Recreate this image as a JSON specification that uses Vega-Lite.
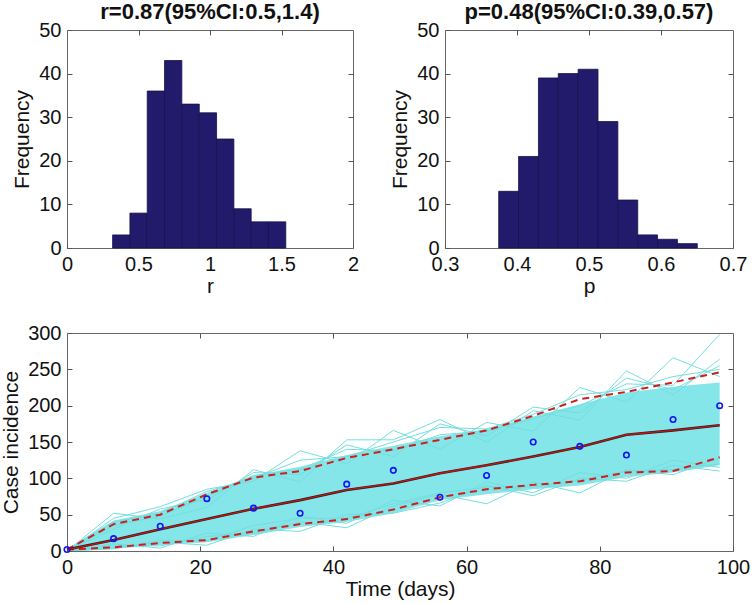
{
  "$schema": "https://vega.github.io/schema/vega-lite/v6.json",
  "padding": {"left": 0, "top": 0, "right": 0, "bottom": 0},
  "background": "white",
  "config": {
    "font": "Liberation Sans",
    "view": {"stroke": "#666", "strokeWidth": 1},
    "axis": {
      "grid": false, "domain": false, "tickColor": "#555", "tickSize": -5, "tickWidth": 1,
      "labelFontSize": 20, "labelColor": "#111", "labelFlush": false, "labelOverlap": false, "labelPadding": 11,
      "titleFontSize": 21, "titleFontWeight": "normal", "titleColor": "#111", "titlePadding": 6
    },
    "axisX": {"titlePadding": 1},
    "title": {"fontSize": 22, "fontWeight": "bold", "offset": -4, "anchor": "middle", "color": "#111"}
  },
  "datasets": {
    "r_hist": [
      {"x0": 0.319, "x1": 0.440, "count": 3},
      {"x0": 0.440, "x1": 0.561, "count": 8},
      {"x0": 0.561, "x1": 0.682, "count": 36},
      {"x0": 0.682, "x1": 0.803, "count": 43},
      {"x0": 0.803, "x1": 0.925, "count": 33},
      {"x0": 0.925, "x1": 1.046, "count": 31},
      {"x0": 1.046, "x1": 1.167, "count": 25},
      {"x0": 1.167, "x1": 1.288, "count": 9},
      {"x0": 1.288, "x1": 1.409, "count": 6},
      {"x0": 1.409, "x1": 1.530, "count": 6}
    ],
    "p_hist": [
      {"x0": 0.3746, "x1": 0.4022, "count": 13},
      {"x0": 0.4022, "x1": 0.4298, "count": 21},
      {"x0": 0.4298, "x1": 0.4573, "count": 39},
      {"x0": 0.4573, "x1": 0.4849, "count": 40},
      {"x0": 0.4849, "x1": 0.5125, "count": 41},
      {"x0": 0.5125, "x1": 0.5401, "count": 29},
      {"x0": 0.5401, "x1": 0.5677, "count": 11},
      {"x0": 0.5677, "x1": 0.5952, "count": 3},
      {"x0": 0.5952, "x1": 0.6228, "count": 2},
      {"x0": 0.6228, "x1": 0.6504, "count": 1}
    ],
    "ci": [
      {"day": 0, "lo": 2, "med": 2, "hi": 2, "core_lo": 0, "core_hi": 3},
      {"day": 7, "lo": 5, "med": 15, "hi": 37, "core_lo": 3, "core_hi": 42},
      {"day": 14, "lo": 11, "med": 30, "hi": 50, "core_lo": 8, "core_hi": 55},
      {"day": 21, "lo": 15, "med": 44, "hi": 78, "core_lo": 12, "core_hi": 80},
      {"day": 28, "lo": 27, "med": 58, "hi": 101, "core_lo": 22, "core_hi": 104},
      {"day": 35, "lo": 37, "med": 70, "hi": 110, "core_lo": 33, "core_hi": 116},
      {"day": 42, "lo": 44, "med": 84, "hi": 128, "core_lo": 40, "core_hi": 132},
      {"day": 49, "lo": 57, "med": 93, "hi": 140, "core_lo": 52, "core_hi": 145},
      {"day": 56, "lo": 74, "med": 107, "hi": 153, "core_lo": 70, "core_hi": 158},
      {"day": 63, "lo": 85, "med": 118, "hi": 166, "core_lo": 78, "core_hi": 168},
      {"day": 70, "lo": 91, "med": 130, "hi": 186, "core_lo": 85, "core_hi": 185},
      {"day": 77, "lo": 96, "med": 143, "hi": 209, "core_lo": 90, "core_hi": 202},
      {"day": 84, "lo": 108, "med": 160, "hi": 219, "core_lo": 102, "core_hi": 218},
      {"day": 91, "lo": 110, "med": 166, "hi": 232, "core_lo": 108, "core_hi": 226},
      {"day": 98, "lo": 129, "med": 173, "hi": 246, "core_lo": 118, "core_hi": 232}
    ],
    "obs": [
      {"day": 0, "cases": 2}, {"day": 7, "cases": 17}, {"day": 14, "cases": 34},
      {"day": 21, "cases": 72}, {"day": 28, "cases": 59}, {"day": 35, "cases": 52},
      {"day": 42, "cases": 92}, {"day": 49, "cases": 111}, {"day": 56, "cases": 74},
      {"day": 63, "cases": 104}, {"day": 70, "cases": 150}, {"day": 77, "cases": 144},
      {"day": 84, "cases": 132}, {"day": 91, "cases": 181}, {"day": 98, "cases": 200}
    ],
    "sims": [
      {"sim": 1, "day": 0, "cases": 0}, {"sim": 1, "day": 7, "cases": 52}, {"sim": 1, "day": 14, "cases": 44}, {"sim": 1, "day": 21, "cases": 60}, {"sim": 1, "day": 28, "cases": 112}, {"sim": 1, "day": 35, "cases": 95}, {"sim": 1, "day": 42, "cases": 153}, {"sim": 1, "day": 49, "cases": 153}, {"sim": 1, "day": 56, "cases": 181}, {"sim": 1, "day": 63, "cases": 150}, {"sim": 1, "day": 70, "cases": 193}, {"sim": 1, "day": 77, "cases": 180}, {"sim": 1, "day": 84, "cases": 248}, {"sim": 1, "day": 91, "cases": 215}, {"sim": 1, "day": 98, "cases": 264},
      {"sim": 2, "day": 0, "cases": 0}, {"sim": 2, "day": 7, "cases": 45}, {"sim": 2, "day": 14, "cases": 61}, {"sim": 2, "day": 21, "cases": 85}, {"sim": 2, "day": 28, "cases": 96}, {"sim": 2, "day": 35, "cases": 138}, {"sim": 2, "day": 42, "cases": 120}, {"sim": 2, "day": 49, "cases": 166}, {"sim": 2, "day": 56, "cases": 140}, {"sim": 2, "day": 63, "cases": 177}, {"sim": 2, "day": 70, "cases": 165}, {"sim": 2, "day": 77, "cases": 225}, {"sim": 2, "day": 84, "cases": 205}, {"sim": 2, "day": 91, "cases": 266}, {"sim": 2, "day": 98, "cases": 240},
      {"sim": 3, "day": 0, "cases": 0}, {"sim": 3, "day": 7, "cases": 35}, {"sim": 3, "day": 14, "cases": 48}, {"sim": 3, "day": 21, "cases": 75}, {"sim": 3, "day": 28, "cases": 104}, {"sim": 3, "day": 35, "cases": 112}, {"sim": 3, "day": 42, "cases": 140}, {"sim": 3, "day": 49, "cases": 138}, {"sim": 3, "day": 56, "cases": 160}, {"sim": 3, "day": 63, "cases": 165}, {"sim": 3, "day": 70, "cases": 182}, {"sim": 3, "day": 77, "cases": 200}, {"sim": 3, "day": 84, "cases": 230}, {"sim": 3, "day": 91, "cases": 228}, {"sim": 3, "day": 98, "cases": 298},
      {"sim": 4, "day": 0, "cases": 0}, {"sim": 4, "day": 7, "cases": 4}, {"sim": 4, "day": 14, "cases": 12}, {"sim": 4, "day": 21, "cases": 8}, {"sim": 4, "day": 28, "cases": 30}, {"sim": 4, "day": 35, "cases": 27}, {"sim": 4, "day": 42, "cases": 50}, {"sim": 4, "day": 49, "cases": 52}, {"sim": 4, "day": 56, "cases": 66}, {"sim": 4, "day": 63, "cases": 90}, {"sim": 4, "day": 70, "cases": 76}, {"sim": 4, "day": 77, "cases": 100}, {"sim": 4, "day": 84, "cases": 96}, {"sim": 4, "day": 91, "cases": 118}, {"sim": 4, "day": 98, "cases": 110},
      {"sim": 5, "day": 0, "cases": 0}, {"sim": 5, "day": 7, "cases": 8}, {"sim": 5, "day": 14, "cases": 7}, {"sim": 5, "day": 21, "cases": 20}, {"sim": 5, "day": 28, "cases": 24}, {"sim": 5, "day": 35, "cases": 40}, {"sim": 5, "day": 42, "cases": 32}, {"sim": 5, "day": 49, "cases": 62}, {"sim": 5, "day": 56, "cases": 78}, {"sim": 5, "day": 63, "cases": 65}, {"sim": 5, "day": 70, "cases": 95}, {"sim": 5, "day": 77, "cases": 80}, {"sim": 5, "day": 84, "cases": 112}, {"sim": 5, "day": 91, "cases": 105}, {"sim": 5, "day": 98, "cases": 128},
      {"sim": 6, "day": 0, "cases": 0}, {"sim": 6, "day": 7, "cases": 3}, {"sim": 6, "day": 14, "cases": 15}, {"sim": 6, "day": 21, "cases": 14}, {"sim": 6, "day": 28, "cases": 35}, {"sim": 6, "day": 35, "cases": 45}, {"sim": 6, "day": 42, "cases": 45}, {"sim": 6, "day": 49, "cases": 65}, {"sim": 6, "day": 56, "cases": 80}, {"sim": 6, "day": 63, "cases": 88}, {"sim": 6, "day": 70, "cases": 88}, {"sim": 6, "day": 77, "cases": 98}, {"sim": 6, "day": 84, "cases": 110}, {"sim": 6, "day": 91, "cases": 112}, {"sim": 6, "day": 98, "cases": 120},
      {"sim": 7, "day": 0, "cases": 0}, {"sim": 7, "day": 7, "cases": 40}, {"sim": 7, "day": 14, "cases": 52}, {"sim": 7, "day": 21, "cases": 82}, {"sim": 7, "day": 28, "cases": 100}, {"sim": 7, "day": 35, "cases": 125}, {"sim": 7, "day": 42, "cases": 130}, {"sim": 7, "day": 49, "cases": 150}, {"sim": 7, "day": 56, "cases": 170}, {"sim": 7, "day": 63, "cases": 168}, {"sim": 7, "day": 70, "cases": 188}, {"sim": 7, "day": 77, "cases": 215}, {"sim": 7, "day": 84, "cases": 222}, {"sim": 7, "day": 91, "cases": 240}, {"sim": 7, "day": 98, "cases": 250},
      {"sim": 8, "day": 0, "cases": 0}, {"sim": 8, "day": 7, "cases": 30}, {"sim": 8, "day": 14, "cases": 58}, {"sim": 8, "day": 21, "cases": 70}, {"sim": 8, "day": 28, "cases": 108}, {"sim": 8, "day": 35, "cases": 105}, {"sim": 8, "day": 42, "cases": 146}, {"sim": 8, "day": 49, "cases": 130}, {"sim": 8, "day": 56, "cases": 175}, {"sim": 8, "day": 63, "cases": 158}, {"sim": 8, "day": 70, "cases": 198}, {"sim": 8, "day": 77, "cases": 190}, {"sim": 8, "day": 84, "cases": 238}, {"sim": 8, "day": 91, "cases": 222}, {"sim": 8, "day": 98, "cases": 255},
      {"sim": 9, "day": 0, "cases": 0}, {"sim": 9, "day": 7, "cases": 10}, {"sim": 9, "day": 14, "cases": 4}, {"sim": 9, "day": 21, "cases": 25}, {"sim": 9, "day": 28, "cases": 20}, {"sim": 9, "day": 35, "cases": 48}, {"sim": 9, "day": 42, "cases": 38}, {"sim": 9, "day": 49, "cases": 70}, {"sim": 9, "day": 56, "cases": 62}, {"sim": 9, "day": 63, "cases": 95}, {"sim": 9, "day": 70, "cases": 80}, {"sim": 9, "day": 77, "cases": 108}, {"sim": 9, "day": 84, "cases": 100}, {"sim": 9, "day": 91, "cases": 125}, {"sim": 9, "day": 98, "cases": 115}
    ]
  },
  "spacing": 25,
  "vconcat": [
    {
      "spacing": 29,
      "hconcat": [
        {
          "width": 286, "height": 218,
          "title": {"text": "r=0.87(95%CI:0.5,1.4)"},
          "data": {"name": "r_hist"},
          "layer": [
            {
              "mark": {"type": "rect", "fill": "#221b6c", "stroke": "#15124a", "strokeWidth": 0.8},
              "encoding": {
                "x": {"field": "x0", "type": "quantitative", "scale": {"domain": [0, 2], "nice": false, "zero": false}, "axis": {"values": [0, 0.5, 1, 1.5, 2], "format": "~g", "title": "r"}},
                "x2": {"field": "x1"},
                "y": {"field": "count", "type": "quantitative", "scale": {"domain": [0, 50], "nice": false}, "axis": {"values": [0, 10, 20, 30, 40, 50], "title": "Frequency"}},
                "y2": {"datum": 0}
              }
            },
            {
              "mark": {"type": "rect", "opacity": 0},
              "encoding": {
                "x": {"field": "x0", "type": "quantitative", "axis": {"orient": "top", "values": [0.5, 1, 1.5], "labels": false, "labelPadding": 0, "title": null}},
                "x2": {"field": "x1"},
                "y": {"field": "count", "type": "quantitative", "axis": {"orient": "right", "values": [10, 20, 30, 40], "labels": false, "labelPadding": 0, "title": null}},
                "y2": {"datum": 0}
              }
            }
          ],
          "resolve": {"axis": {"x": "independent", "y": "independent"}}
        },
        {
          "width": 288, "height": 218,
          "title": {"text": "p=0.48(95%CI:0.39,0.57)"},
          "data": {"name": "p_hist"},
          "layer": [
            {
              "mark": {"type": "rect", "fill": "#221b6c", "stroke": "#15124a", "strokeWidth": 0.8},
              "encoding": {
                "x": {"field": "x0", "type": "quantitative", "scale": {"domain": [0.3, 0.7], "nice": false, "zero": false}, "axis": {"values": [0.3, 0.4, 0.5, 0.6, 0.7], "format": ".1f", "title": "p"}},
                "x2": {"field": "x1"},
                "y": {"field": "count", "type": "quantitative", "scale": {"domain": [0, 50], "nice": false}, "axis": {"values": [0, 10, 20, 30, 40, 50], "title": "Frequency"}},
                "y2": {"datum": 0}
              }
            },
            {
              "mark": {"type": "rect", "opacity": 0},
              "encoding": {
                "x": {"field": "x0", "type": "quantitative", "axis": {"orient": "top", "values": [0.4, 0.5, 0.6], "labels": false, "labelPadding": 0, "title": null}},
                "x2": {"field": "x1"},
                "y": {"field": "count", "type": "quantitative", "axis": {"orient": "right", "values": [10, 20, 30, 40], "labels": false, "labelPadding": 0, "title": null}},
                "y2": {"datum": 0}
              }
            }
          ],
          "resolve": {"axis": {"x": "independent", "y": "independent"}}
        }
      ]
    },
    {
      "width": 666, "height": 218,
      "layer": [
        {
          "data": {"name": "ci"},
          "mark": {"type": "area", "color": "#84e6e8", "opacity": 1},
          "encoding": {
            "x": {"field": "day", "type": "quantitative", "scale": {"domain": [0, 100], "nice": false}, "axis": {"values": [0, 20, 40, 60, 80, 100], "title": "Time (days)"}},
            "y": {"field": "core_lo", "type": "quantitative", "scale": {"domain": [0, 300], "nice": false}, "axis": {"values": [0, 50, 100, 150, 200, 250, 300], "title": "Case incidence"}},
            "y2": {"field": "core_hi"}
          }
        },
        {
          "data": {"name": "sims"},
          "mark": {"type": "line", "color": "#74dede", "strokeWidth": 1, "clip": true},
          "encoding": {
            "x": {"field": "day", "type": "quantitative", "axis": null},
            "y": {"field": "cases", "type": "quantitative", "axis": null},
            "detail": {"field": "sim"}
          }
        },
        {
          "data": {"name": "ci"},
          "mark": {"type": "line", "color": "#d01e1e", "strokeWidth": 2, "strokeDash": [7, 5]},
          "encoding": {
            "x": {"field": "day", "type": "quantitative", "axis": null},
            "y": {"field": "hi", "type": "quantitative", "axis": null}
          }
        },
        {
          "data": {"name": "ci"},
          "mark": {"type": "line", "color": "#d01e1e", "strokeWidth": 2, "strokeDash": [7, 5]},
          "encoding": {
            "x": {"field": "day", "type": "quantitative", "axis": null},
            "y": {"field": "lo", "type": "quantitative", "axis": null}
          }
        },
        {
          "data": {"name": "ci"},
          "mark": {"type": "line", "color": "#222", "strokeWidth": 2.6},
          "encoding": {
            "x": {"field": "day", "type": "quantitative", "axis": null},
            "y": {"field": "med", "type": "quantitative", "axis": null}
          }
        },
        {
          "data": {"name": "ci"},
          "mark": {"type": "line", "color": "#d01010", "strokeWidth": 1.3},
          "encoding": {
            "x": {"field": "day", "type": "quantitative", "axis": null},
            "y": {"field": "med", "type": "quantitative", "axis": null}
          }
        },
        {
          "data": {"name": "obs"},
          "mark": {"type": "point", "shape": "circle", "filled": false, "color": "#1414f0", "size": 30, "strokeWidth": 1.6, "opacity": 1},
          "encoding": {
            "x": {"field": "day", "type": "quantitative", "axis": null},
            "y": {"field": "cases", "type": "quantitative", "axis": null}
          }
        },
        {
          "data": {"name": "obs"},
          "mark": {"type": "point", "opacity": 0},
          "encoding": {
            "x": {"field": "day", "type": "quantitative", "axis": {"orient": "top", "values": [20, 40, 60, 80], "labels": false, "labelPadding": 0, "title": null}},
            "y": {"field": "cases", "type": "quantitative", "axis": {"orient": "right", "values": [50, 100, 150, 200, 250], "labels": false, "labelPadding": 0, "title": null}}
          }
        }
      ],
      "resolve": {"axis": {"x": "independent", "y": "independent"}}
    }
  ]
}
